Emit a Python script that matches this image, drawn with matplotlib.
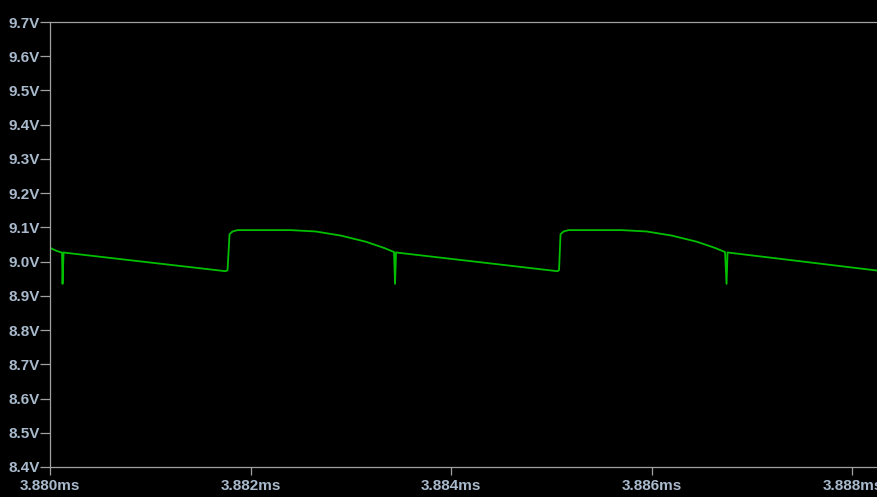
import matplotlib.pyplot as plt

# V(out) ripple, time in ms and volts
t_ms = [3.880000, 3.880060, 3.880120, 3.880125, 3.880135, 3.880150,
        3.881750, 3.881770, 3.881790, 3.881820, 3.881870, 3.882400,
        3.882650, 3.882900, 3.883150, 3.883330, 3.883430, 3.883440,
        3.883450, 3.883470, 3.885060, 3.885075, 3.885090, 3.885120,
        3.885170, 3.885700, 3.885950, 3.886200, 3.886450, 3.886630,
        3.886730, 3.886745, 3.886755, 3.886775, 3.888300]
v_out = [9.040, 9.032, 9.026, 8.935, 9.027, 9.026,
         8.972, 8.975, 9.080, 9.088, 9.092, 9.092,
         9.088, 9.076, 9.058, 9.040, 9.028, 8.935,
         9.027, 9.026, 8.972, 8.975, 9.080, 9.088,
         9.092, 9.092, 9.088, 9.076, 9.058, 9.040,
         9.028, 8.935, 9.027, 9.026, 8.972]

y_ticks = [8.4, 8.5, 8.6, 8.7, 8.8, 8.9, 9.0, 9.1, 9.2, 9.3, 9.4, 9.5, 9.6, 9.7]
x_ticks = [3.880, 3.882, 3.884, 3.886, 3.888]

bg = 'black'
axis_col = '#a0a0a0'
text_col = '#a9bacd'

fig = plt.figure(figsize=(8.77, 4.97), dpi=100, facecolor=bg)
ax = fig.add_axes([50 / 877, 30 / 497, 827 / 877, 445 / 497], facecolor=bg)

ax.plot(t_ms, v_out, color='#00c000', lw=1.3)

ax.set_xlim(3.880, 3.888245)
ax.set_ylim(8.4, 9.7)
ax.set_yticks(y_ticks)
ax.set_yticklabels(['%.1fV' % v for v in y_ticks])
ax.set_xticks(x_ticks)
ax.set_xticklabels(['%.3fms' % t for t in x_ticks])

for side in ['left', 'bottom', 'top']:
    ax.spines[side].set_color(axis_col)
    ax.spines[side].set_linewidth(0.9)
ax.spines['right'].set_visible(False)

ax.tick_params(axis='y', colors=axis_col, length=7.5, width=0.9, pad=0,
               labelcolor=text_col, labelsize=11)
ax.tick_params(axis='x', colors=axis_col, length=6, width=0.9, pad=3,
               labelcolor=text_col, labelsize=11)
for lab in ax.get_xticklabels() + ax.get_yticklabels():
    lab.set_fontfamily('Liberation Sans')
    lab.set_fontweight('bold')

fig.savefig('out.png', dpi=100, facecolor=bg)
